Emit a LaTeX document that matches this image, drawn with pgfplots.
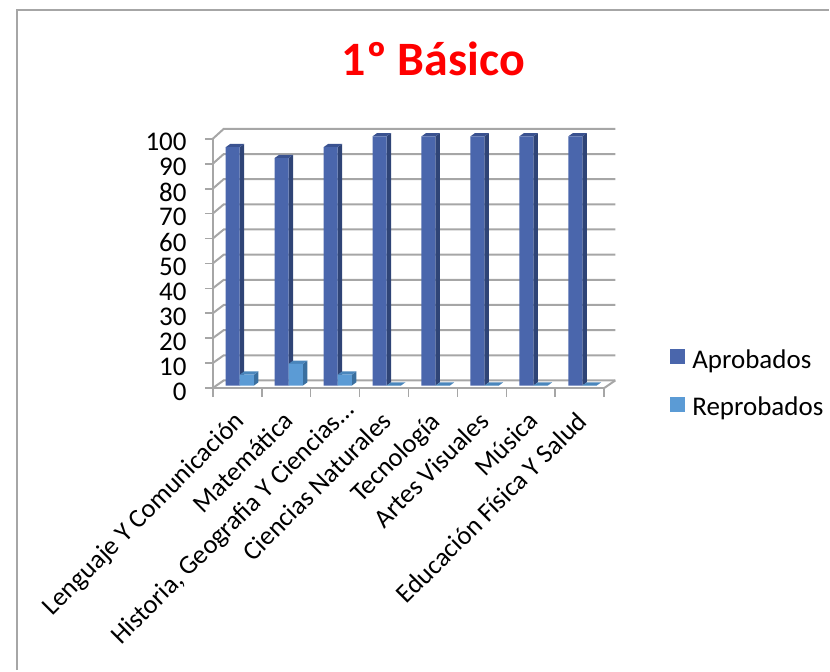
\documentclass[border=0pt]{standalone}
\usepackage{fontspec}
\setmainfont{Carlito}
\usepackage{pgfplots}
\pgfplotsset{compat=1.18}
\definecolor{gridc}{HTML}{A6A6A6}
\definecolor{frontA}{HTML}{4A66AC}
\definecolor{sideA}{HTML}{2F4476}
\definecolor{topA}{HTML}{3A5290}
\definecolor{frontB}{HTML}{5B9BD5}
\definecolor{sideB}{HTML}{3A6F9F}
\definecolor{topB}{HTML}{4A86BC}
% side and top faces of a bar: index, left px, right px (from category centre), value, colours
\newcommand\faces[6]{%
  \pgfmathsetmacro\xl{#1+#2/49}%
  \pgfmathsetmacro\xr{#1+#3/49}%
  \pgfmathsetmacro\xrd{#1+(#3+4.5)/49}%
  \pgfmathsetmacro\xld{#1+(#2+4.5)/49}%
  \pgfmathsetmacro\vd{#4+1.3}%
  \edef\tmp{\noexpand\addplot[forget plot,fill=#5,draw=none,yshift=2.5pt] coordinates {(\xr,0)(\xrd,1.3)(\xrd,\vd)(\xr,#4)} -- cycle;
  \noexpand\addplot[forget plot,fill=#6,draw=none,yshift=2.5pt] coordinates {(\xl,#4)(\xld,\vd)(\xrd,\vd)(\xr,#4)} -- cycle;}%
  \tmp}
\newcommand\wall[1]{%
  \pgfmathsetmacro\yb{#1*1.0095+3.05}%
  \edef\tmp{\noexpand\addplot[forget plot,gridc,line width=2pt] coordinates {(-0.5,#1)(-0.2755,\yb)(7.7245,\yb)};}%
  \tmp}
\begin{document}
\begin{tikzpicture}[x=1pt,y=1pt]
\path (0,0) rectangle (830,-671);
\draw[gridc,line width=2pt] (17,-671) -- (17,-10.5) -- (830,-10.5);
\node[text=red,font=\bfseries\fontsize{48}{52}\selectfont,anchor=base] at (434,-76) {1º Básico};
\begin{axis}[
  at={(213pt,-388.5pt)},anchor=south west,
  scale only axis,width=392pt,height=249.5pt,
  xmin=-0.5,xmax=7.5,ymin=0,ymax=100,
  clip=false,
  axis x line*=bottom,axis y line*=left,
  axis line style={gridc,line width=2pt,-},
  xtick={0,1,2,3,4,5,6,7},
  xticklabels={Lenguaje Y Comunicación,Matemática,{\mbox{Historia, Geografia Y Ciencias…\kern-16pt}},Ciencias Naturales,Tecnología,Artes Visuales,Música,Educación Física Y Salud},
  minor xtick={-0.5,0.5,1.5,2.5,3.5,4.5,5.5,6.5,7.5},
  ytick={0,10,...,100},
  tick align=outside,
  major tick length=8pt,minor tick length=9pt,
  major x tick style={draw=none},
  minor x tick style={gridc,line width=1.7pt},
  y tick style={gridc,line width=1.7pt},
  tick label style={/pgf/number format/assume math mode=true},
  y tick label style={font=\fontsize{27}{27}\selectfont,inner sep=1pt,yshift=-3.5pt,xshift=-17pt},
  x tick label style={font=\fontsize{26.5}{27}\selectfont,rotate=45,anchor=north east,inner sep=0pt,xshift=-12.8pt,yshift=-6.7pt},
  legend style={at={(458pt,39pt)},anchor=north west,draw=none,fill=none,font=\fontsize{27}{27}\selectfont,row sep=27pt,inner sep=0pt,/tikz/every node/.append style={inner sep=0pt},/tikz/column 1/.style={column sep=7pt}},
  legend cell align=left,
  legend image code/.code={\fill[#1] (0pt,-7.5pt) rectangle (15pt,7.5pt);},
]
\wall{0}\wall{10}\wall{20}\wall{30}\wall{40}\wall{50}\wall{60}\wall{70}\wall{80}\wall{90}\wall{100}
\addplot[forget plot,gridc,line width=2pt] coordinates {(7.5,0)(7.7245,3.05)};

\faces{0}{-11.5}{2.5}{95.65}{sideA}{topA}
\faces{1}{-11.5}{2.5}{91.3}{sideA}{topA}
\faces{2}{-11.5}{2.5}{95.65}{sideA}{topA}
\faces{3}{-11.5}{2.5}{100}{sideA}{topA}
\faces{4}{-11.5}{2.5}{100}{sideA}{topA}
\faces{5}{-11.5}{2.5}{100}{sideA}{topA}
\faces{6}{-11.5}{2.5}{100}{sideA}{topA}
\faces{7}{-11.5}{2.5}{100}{sideA}{topA}
\addplot[ybar,bar width=14pt,bar shift=-4.5pt,fill=frontA,draw=none,yshift=2.5pt]
  coordinates {(0,95.65)(1,91.3)(2,95.65)(3,100)(4,100)(5,100)(6,100)(7,100)};
\addlegendentry{Aprobados}

\faces{0}{2.5}{16.8}{4.35}{sideB}{topB}
\faces{1}{2.5}{16.8}{8.7}{sideB}{topB}
\faces{2}{2.5}{16.8}{4.35}{sideB}{topB}
\faces{3}{2.5}{16.8}{0}{sideB}{topB}
\faces{4}{2.5}{16.8}{0}{sideB}{topB}
\faces{5}{2.5}{16.8}{0}{sideB}{topB}
\faces{6}{2.5}{16.8}{0}{sideB}{topB}
\faces{7}{2.5}{16.8}{0}{sideB}{topB}
\addplot[ybar,bar width=14.3pt,bar shift=9.65pt,fill=frontB,draw=none,yshift=2.5pt]
  coordinates {(0,4.35)(1,8.7)(2,4.35)(3,0)(4,0)(5,0)(6,0)(7,0)};
\addlegendentry{Reprobados}
\end{axis}
\end{tikzpicture}
\end{document}
